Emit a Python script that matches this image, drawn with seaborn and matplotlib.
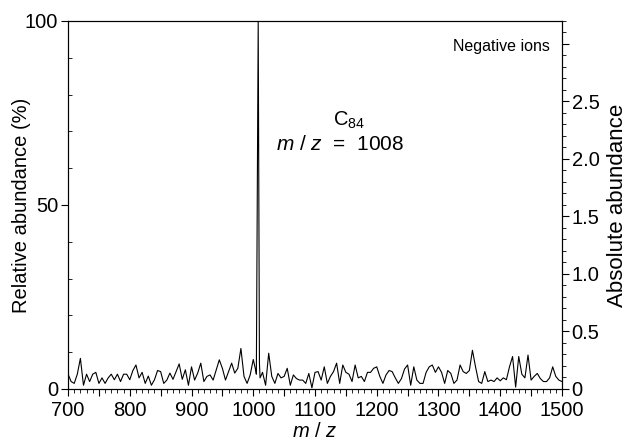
import numpy as np
import pandas as pd
import matplotlib
matplotlib.use("Agg")
import matplotlib.pyplot as plt
from matplotlib.ticker import MultipleLocator, FuncFormatter
import seaborn as sns

# noise baseline, every 5 m/z units (700 ... 1500), in %
noise_mz = list(range(700, 1501, 5))
noise_ab = [
    4.0, 2.0, 1.5, 4.0, 8.3, 1.0, 4.0, 2.0, 4.0, 4.5,      # 700-745
    1.5, 3.0, 1.5, 3.0, 4.0, 2.5, 4.0, 2.0, 4.0, 4.0,      # 750-795
    2.5, 5.0, 6.5, 3.0, 4.5, 1.5, 3.5, 1.0, 2.5, 5.0,      # 800-845
    4.7, 1.5, 2.4, 4.3, 2.6, 4.7, 6.8, 2.6, 5.2, 1.0,      # 850-895
    6.0, 2.4, 4.3, 7.0, 2.0, 3.4, 3.8, 2.4, 5.2, 7.9,      # 900-945
    5.6, 2.4, 4.7, 7.0, 4.3, 5.6, 11.0, 3.4, 1.5, 3.8,     # 950-995
    8.0, 4.0, 7.0, 4.5, 1.0, 9.7, 3.4, 1.5, 4.2, 3.0,      # 1000-1045
    3.4, 5.6, 1.0, 3.8, 2.8, 2.4, 2.4, 1.5, 4.2, 0.3,      # 1050-1095
    4.5, 4.7, 2.4, 6.0, 1.5, 3.4, 4.7, 7.0, 1.5, 6.5,      # 1100-1145
    4.5, 4.0, 2.0, 6.5, 3.0, 3.4, 2.0, 4.5, 4.5, 5.6,      # 1150-1195
    6.0, 3.4, 1.5, 3.8, 5.0, 4.7, 3.0, 1.5, 2.8, 5.4,      # 1200-1245
    6.5, 1.0, 6.0, 2.4, 1.5, 1.5, 4.5, 6.0, 6.5, 4.5,      # 1250-1295
    6.0, 4.5, 1.5, 5.0, 4.2, 1.5, 2.4, 6.5, 4.7, 4.2,      # 1300-1345
    5.0, 10.5, 6.0, 2.0, 1.5, 4.7, 2.0, 2.4, 2.0, 3.0,     # 1350-1395
    2.2, 3.0, 2.5, 6.0, 8.8, 0.5, 8.8, 4.0, 3.0, 9.2,      # 1400-1445
    2.4, 3.4, 4.2, 2.8, 2.0, 2.0, 3.0, 6.0, 3.4, 2.4,      # 1450-1495
    2.0,                                                   # 1500
]

# C84 anion peak
peak_mz = [1004, 1008, 1011]
peak_ab = [5.0, 100.0, 3.0]

# 100 % on the left axis corresponds to this absolute abundance
abs_max = 3.2

df = pd.DataFrame({
    "mz": noise_mz + peak_mz,
    "ab": noise_ab + peak_ab,
}).sort_values("mz")

sns.set_theme(style="ticks")
plt.rcParams['font.family'] = ['Liberation Sans', 'DejaVu Sans']
plt.rcParams['mathtext.fontset'] = 'custom'
plt.rcParams['mathtext.it'] = 'Liberation Sans:italic'
plt.rcParams['mathtext.rm'] = 'Liberation Sans'
plt.rcParams['text.color'] = 'black'
plt.rcParams['axes.labelcolor'] = 'black'
plt.rcParams['xtick.color'] = 'black'
plt.rcParams['ytick.color'] = 'black'

fig = plt.figure(figsize=(6.3, 4.46), dpi=100)
ax = fig.add_axes([0.108, 0.128, 0.784, 0.825])

sns.lineplot(data=df, x="mz", y="ab", ax=ax, color="black", linewidth=0.8,
             estimator=None)

ax.set_xlim(700, 1500)
ax.set_ylim(0, 100)
ax.xaxis.set_major_locator(MultipleLocator(50))
ax.xaxis.set_minor_locator(MultipleLocator(10))
ax.xaxis.set_major_formatter(FuncFormatter(lambda v, p: f"{int(v)}" if v % 100 == 0 else ""))
ax.yaxis.set_major_locator(MultipleLocator(50))
ax.yaxis.set_minor_locator(MultipleLocator(10))
ax.tick_params(axis='both', which='major', labelsize=14.5, length=5, width=0.8, color='black', pad=2)
ax.tick_params(axis='x', which='major', pad=4)
ax.tick_params(axis='both', which='minor', length=3, width=0.6, color='black')
ax.tick_params(axis='y', which='minor', direction='in')
ax.set_xlabel("$m$ / $z$", fontsize=14.5, labelpad=1)
ax.set_ylabel("Relative abundance (%)", fontsize=14.5)
ax.yaxis.set_label_coords(-0.075, 0.5)
for sp in ax.spines.values():
    sp.set_color('black')
    sp.set_linewidth(0.8)

ax2 = ax.twinx()
ax2.set_ylim(0, abs_max)
ax2.yaxis.set_major_locator(MultipleLocator(0.5))
ax2.yaxis.set_minor_locator(MultipleLocator(0.1))
ax2.yaxis.set_major_formatter(FuncFormatter(lambda v, p: "0" if v == 0 else (f"{v:.1f}" if v < 2.9 else "")))
ax2.tick_params(axis='y', which='major', labelsize=14.5, length=5, width=0.8, color='black', pad=2)
ax2.tick_params(axis='y', which='minor', length=3, width=0.6, color='black')
ax2.set_ylabel("Absolute abundance", fontsize=16, labelpad=5)
for sp in ax2.spines.values():
    sp.set_color('black')
    sp.set_linewidth(0.8)

ax.text(0.975, 0.93, "Negative ions", transform=ax.transAxes, ha='right', va='center', fontsize=11.5)
ax.text(1155, 73, "C$_{84}$", ha='center', va='center', fontsize=14.5)
ax.text(1140, 66.3, "$m$ / $z$  =  1008", ha='center', va='center', fontsize=15)

fig.savefig("out.png", dpi=100, facecolor='white')
